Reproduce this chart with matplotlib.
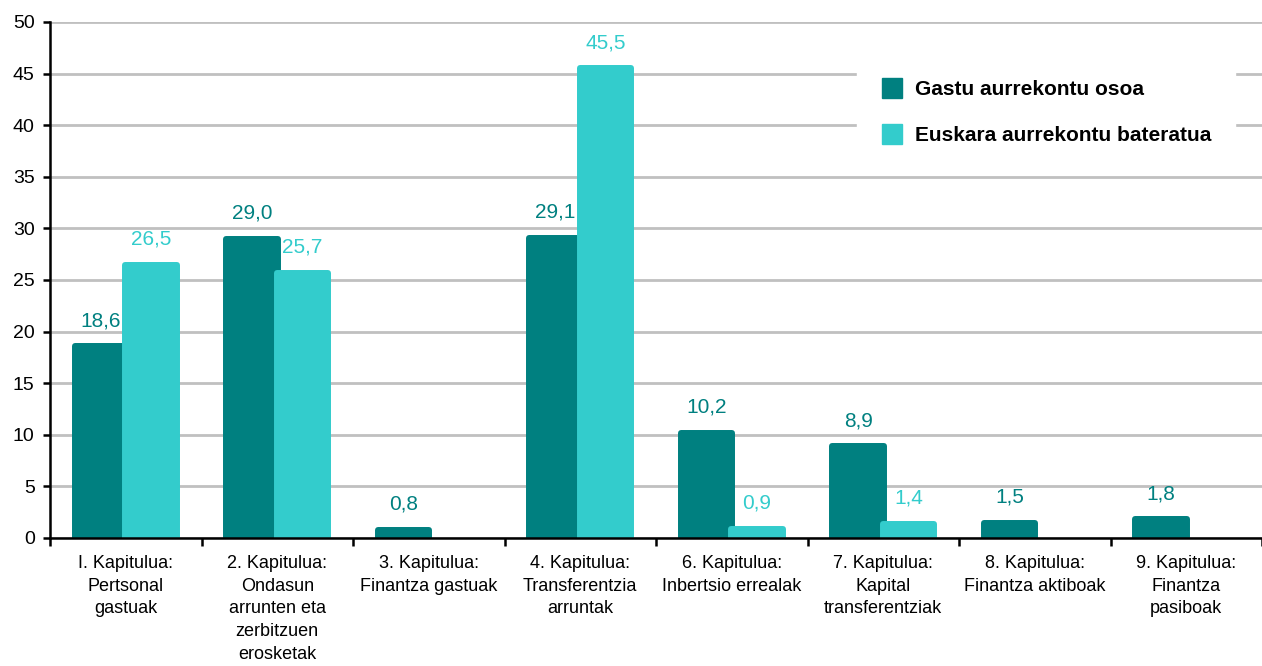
import matplotlib.pyplot as plt
import numpy as np
from matplotlib.lines import Line2D

plt.rcParams['font.family'] = ['Liberation Sans', 'DejaVu Sans']

# Chart data
categories = ['I. Kapitulua:\nPertsonal\ngastuak',
              '2. Kapitulua:\nOndasun\narrunten eta\nzerbitzuen\nerosketak',
              '3. Kapitulua:\nFinantza gastuak',
              '4. Kapitulua:\nTransferentzia\narruntak',
              '6. Kapitulua:\nInbertsio errealak',
              '7. Kapitulua:\nKapital\ntransferentziak',
              '8. Kapitulua:\nFinantza aktiboak',
              '9. Kapitulua:\nFinantza\npasiboak']
gastu = [18.6, 29.0, 0.8, 29.1, 10.2, 8.9, 1.5, 1.8]
euskara = [26.5, 25.7, None, 45.5, 0.9, 1.4, None, None]
series_names = ['Gastu aurrekontu osoa', 'Euskara aurrekontu bateratua']

dark = '#008080'
light = '#33CCCC'

fig = plt.figure(figsize=(12.62, 6.66), dpi=100)
ax = fig.add_axes([50 / 1262, 128 / 666, 1212 / 1262, 516 / 666])

x = np.arange(len(categories))
w = 0.341
off = 0.166
edge = 4.3  # rounded edge around bars (points)

g_vals = np.array(gastu)
e_vals = np.array([v if v is not None else np.nan for v in euskara], dtype=float)

ax.bar(x - off, g_vals, w, color=dark, edgecolor=dark, linewidth=edge,
	   joinstyle='round', zorder=3)
ax.bar(x + off, e_vals, w, color=light, edgecolor=light, linewidth=edge,
	   joinstyle='round', zorder=4)

def fmt(v):
	return ('%.1f' % v).replace('.', ',')

for i, v in enumerate(gastu):
	ax.annotate(fmt(v), (x[i] - off, v), xytext=(0, 11.5), textcoords='offset points',
				ha='center', va='bottom', color=dark, fontsize=15)
for i, v in enumerate(euskara):
	if v is None:
		continue
	ax.annotate(fmt(v), (x[i] + off, v), xytext=(0, 11.5), textcoords='offset points',
				ha='center', va='bottom', color=light, fontsize=15, zorder=6)

ax.set_ylim(0, 50)
ax.set_xlim(-0.5, -0.5 + 1212 / 152.5)
ax.set_yticks(range(0, 51, 5))
ax.yaxis.grid(True, color='#C0C0C0', linewidth=2, zorder=0)
ax.set_axisbelow(True)

ax.set_xticks(x)
ax.set_xticklabels(categories, fontsize=13, linespacing=1.45)
ax.set_xticks(np.arange(-0.5, 8, 1), minor=True)
ax.tick_params(axis='x', which='major', length=0, pad=12)
ax.tick_params(axis='x', which='minor', length=6, width=1.8, direction='out')
ax.tick_params(axis='y', length=5, width=1.8, labelsize=14, pad=6)

for s in ['top', 'right']:
	ax.spines[s].set_visible(False)
ax.spines['left'].set_linewidth(1.8)
ax.spines['bottom'].set_linewidth(1.8)
ax.spines['left'].set_zorder(5)
ax.spines['bottom'].set_zorder(5)

handles = [Line2D([], [], marker='s', linestyle='none', markersize=15, color=dark),
		   Line2D([], [], marker='s', linestyle='none', markersize=15, color=light)]
leg = ax.legend(handles, series_names, loc='upper left', bbox_to_anchor=(807 / 1212, 0.932),
				frameon=True, facecolor='white', edgecolor='white', framealpha=1,
				prop={'weight': 'bold', 'size': 15}, handletextpad=0.5,
				labelspacing=1.3, borderpad=1.1, borderaxespad=0, fancybox=False,
				handlelength=1.2)
leg.set_zorder(7)

fig.savefig('out.png', dpi=100)
